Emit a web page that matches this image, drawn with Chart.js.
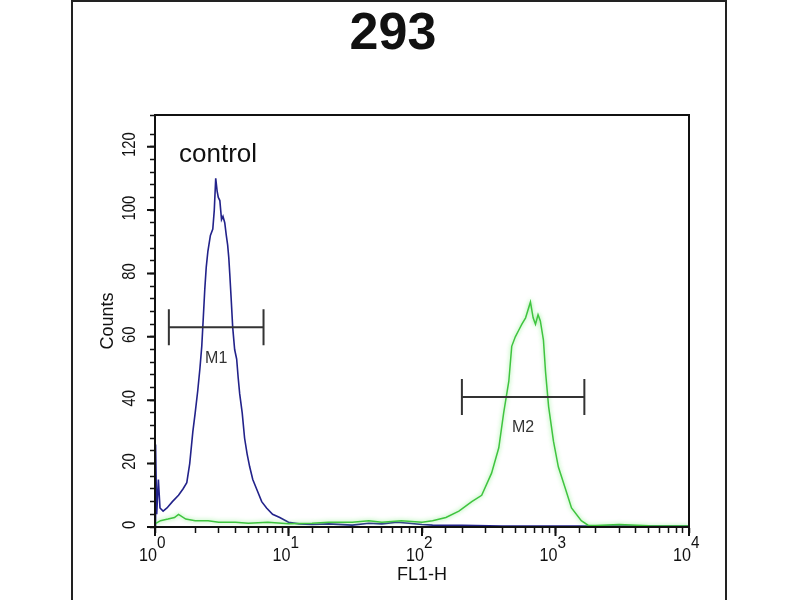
<!DOCTYPE html>
<html>
<head>
<meta charset="utf-8">
<script src="https://cdn.jsdelivr.net/npm/chart.js@4"></script>
<style>
  html, body { margin: 0; padding: 0; background: #fff; }
  #wrap { width: 800px; height: 600px; }
</style>
</head>
<body>
<div id="wrap"><canvas id="facs"></canvas></div>
<script>
// control histogram (blue)
const controlX = [1.0, 1.01, 1.03, 1.06, 1.09, 1.15, 1.23, 1.35, 1.5, 1.62, 1.73, 1.82, 1.92, 2.0, 2.09, 2.17, 2.24, 2.3, 2.36, 2.42, 2.49, 2.6, 2.71, 2.78, 2.85, 2.92, 2.98, 3.06, 3.15, 3.23, 3.33, 3.42, 3.5, 3.57, 3.63, 3.72, 3.82, 3.95, 4.09, 4.2, 4.31, 4.5, 4.69, 4.9, 5.12, 5.4, 5.77, 6.3, 6.85, 7.6, 8.6, 10, 12, 15, 20, 30, 40, 50, 65, 80, 100, 120, 200, 400, 1000, 3000, 10000];
const controlY = [0, 26, 4, 15, 6, 5, 6, 8, 10, 12, 14, 20, 30, 36, 43, 50, 57, 66, 75, 82, 87, 92, 94, 100, 110, 106, 104, 103, 97, 98, 96, 92, 89, 85, 80, 72, 63, 56, 53, 47, 42, 36, 28, 23, 19, 15, 12, 8, 6, 4, 3, 1.5, 1, 0.8, 1, 0.6, 1.2, 1, 1.5, 1.2, 0.8, 0.6, 0.5, 0.3, 0.3, 0.3, 0.3];

// sample histogram (green)
const sampleX = [1.0, 1.1, 1.25, 1.4, 1.5, 1.7, 2.0, 2.5, 3, 4, 5, 7, 10, 15, 20, 30, 40, 50, 70, 100, 120, 151, 189, 236, 280, 332, 376, 409, 447, 470, 500, 529, 560, 597, 649, 680, 708, 740, 770, 812, 842, 888, 966, 1050, 1188, 1318, 1560, 1763, 2000, 3000, 5000, 10000];
const sampleY = [1, 2, 2.5, 3, 4, 2.5, 2, 2, 1.5, 1.5, 1.2, 1.5, 1, 1.2, 1.5, 1.5, 2, 1.5, 2, 1.5, 2, 3, 5, 8, 10, 17, 25, 36, 46, 57, 60, 62, 64, 66, 71, 66, 64, 67, 65, 59, 49, 38, 27, 19, 12, 6, 2, 0.5, 0.5, 0.8, 0.4, 0.3];

// gates
const markerNames = ["M1", "M2"];
const markerFrom = [1.27, 199];
const markerTo = [6.5, 1645];
const markerLevel = [63, 41];

// tick labels
const yTickLabels = [0, 20, 40, 60, 80, 100, 120];
const xTickExponents = [0, 1, 2, 3, 4];

const FONT = "'Liberation Sans', Arial, sans-serif";

// draw narrow text (the original uses a condensed face)
function narrowText(ctx, text, x, y, squeeze) {
  ctx.save();
  ctx.translate(x, y);
  ctx.scale(squeeze, 1);
  ctx.fillText(text, 0, 0);
  ctx.restore();
}

const facsPlugin = {
  id: "facs",
  beforeDraw(chart) {
    const ctx = chart.ctx;
    ctx.save();
    ctx.fillStyle = "#fff";
    ctx.fillRect(0, 0, chart.width, chart.height);
    ctx.strokeStyle = "#222";
    ctx.lineWidth = 2;
    ctx.beginPath();
    ctx.moveTo(72, 600); ctx.lineTo(72, 1); ctx.lineTo(726, 1); ctx.lineTo(726, 600);
    ctx.stroke();
    ctx.restore();
  },
  beforeDatasetDraw(chart, args) {
    const ctx = chart.ctx;
    ctx.save();
    if (args.index === 0) {
      ctx.shadowColor = "rgba(120, 235, 120, 0.9)";
      ctx.shadowBlur = 4;
    }
  },
  afterDatasetDraw(chart) {
    chart.ctx.restore();
  },
  afterDraw(chart) {
    const ctx = chart.ctx;
    const a = chart.chartArea;
    const xs = chart.scales.x, ys = chart.scales.y;
    ctx.save();
    // plot frame
    ctx.strokeStyle = "#111";
    ctx.lineWidth = 2;
    ctx.strokeRect(a.left, a.top, a.right - a.left, a.bottom - a.top);

    // longer major ticks
    ctx.beginPath();
    yTickLabels.forEach(v => {
      const y = ys.getPixelForValue(v);
      ctx.moveTo(a.left - 8, y); ctx.lineTo(a.left, y);
    });
    xTickExponents.forEach(e => {
      const x = xs.getPixelForValue(Math.pow(10, e));
      ctx.moveTo(x, a.bottom); ctx.lineTo(x, a.bottom + 9);
    });
    ctx.stroke();

    ctx.fillStyle = "#111";
    // y tick labels, rotated
    ctx.font = "18px " + FONT;
    ctx.textAlign = "center";
    ctx.textBaseline = "middle";
    yTickLabels.forEach(v => {
      const y = ys.getPixelForValue(v);
      ctx.save();
      ctx.translate(130, y - 2);
      ctx.rotate(-Math.PI / 2);
      ctx.scale(0.82, 1);
      ctx.fillText(String(v), 0, 0);
      ctx.restore();
    });

    // x tick labels 10^n
    ctx.textBaseline = "alphabetic";
    xTickExponents.forEach(e => {
      const x = xs.getPixelForValue(Math.pow(10, e));
      ctx.font = "19px " + FONT;
      ctx.textAlign = "right";
      narrowText(ctx, "10", x + 2, 561, 0.85);
      ctx.font = "17px " + FONT;
      ctx.textAlign = "left";
      narrowText(ctx, String(e), x + 2, 548, 0.9);
    });

    // control label
    ctx.font = "26px " + FONT;
    ctx.textAlign = "left";
    ctx.fillText("control", 179, 162);

    // gate markers
    ctx.strokeStyle = "#333";
    ctx.lineWidth = 2;
    markerNames.forEach((name, i) => {
      const x1 = xs.getPixelForValue(markerFrom[i]);
      const x2 = xs.getPixelForValue(markerTo[i]);
      const y = ys.getPixelForValue(markerLevel[i]);
      ctx.beginPath();
      ctx.moveTo(x1, y); ctx.lineTo(x2, y);
      ctx.moveTo(x1, y - 18); ctx.lineTo(x1, y + 18);
      ctx.moveTo(x2, y - 18); ctx.lineTo(x2, y + 18);
      ctx.stroke();
      ctx.fillStyle = "#333";
      ctx.font = "16px " + FONT;
      ctx.textAlign = "center";
      ctx.textBaseline = "middle";
      ctx.fillText(name, (x1 + x2) / 2, y + 31);
    });
    ctx.restore();
  }
};

new Chart(document.getElementById("facs"), {
  type: "line",
  data: {
    datasets: [
      {
        label: "sample",
        data: sampleX.map((x, i) => ({ x: x, y: sampleY[i] })),
        borderColor: "#3fc43f",
        borderWidth: 1.5,
        pointRadius: 0,
        tension: 0
      },
      {
        label: "control",
        data: controlX.map((x, i) => ({ x: x, y: controlY[i] })),
        borderColor: "#22228a",
        borderWidth: 1.6,
        pointRadius: 0,
        tension: 0
      }
    ]
  },
  plugins: [facsPlugin],
  options: {
    responsive: true,
    maintainAspectRatio: false,
    animation: false,
    layout: { padding: { left: 97, right: 111, top: 0, bottom: 0 } },
    plugins: {
      legend: { display: false },
      tooltip: { enabled: false },
      title: {
        display: true,
        text: "293",
        color: "#111",
        font: { family: FONT, size: 52, weight: "bold" },
        padding: { top: 3.5, bottom: 49.1 }
      }
    },
    scales: {
      x: {
        type: "logarithmic",
        min: 1,
        max: 10000,
        afterFit(scale) { scale.height = 73; },
        grid: { drawOnChartArea: false, tickLength: 6, color: "#111", tickWidth: 1.5 },
        border: { display: true, color: "#111", width: 2 },
        ticks: { display: false, autoSkip: false },
        title: {
          display: true,
          text: "FL1-H",
          color: "#111",
          font: { family: FONT, size: 18 },
          padding: { top: 0, bottom: 14 }
        }
      },
      y: {
        min: 0,
        max: 130,
        afterFit(scale) { scale.width = 58; },
        grid: { drawOnChartArea: false, tickLength: 5, color: "#111", tickWidth: 1.5 },
        border: { display: true, color: "#111", width: 2 },
        ticks: { display: false, stepSize: 4, autoSkip: false },
        title: {
          display: true,
          text: "Counts",
          color: "#111",
          font: { family: FONT, size: 18 },
          padding: { top: 0, bottom: 0 }
        }
      }
    }
  }
});
</script>
</body>
</html>
